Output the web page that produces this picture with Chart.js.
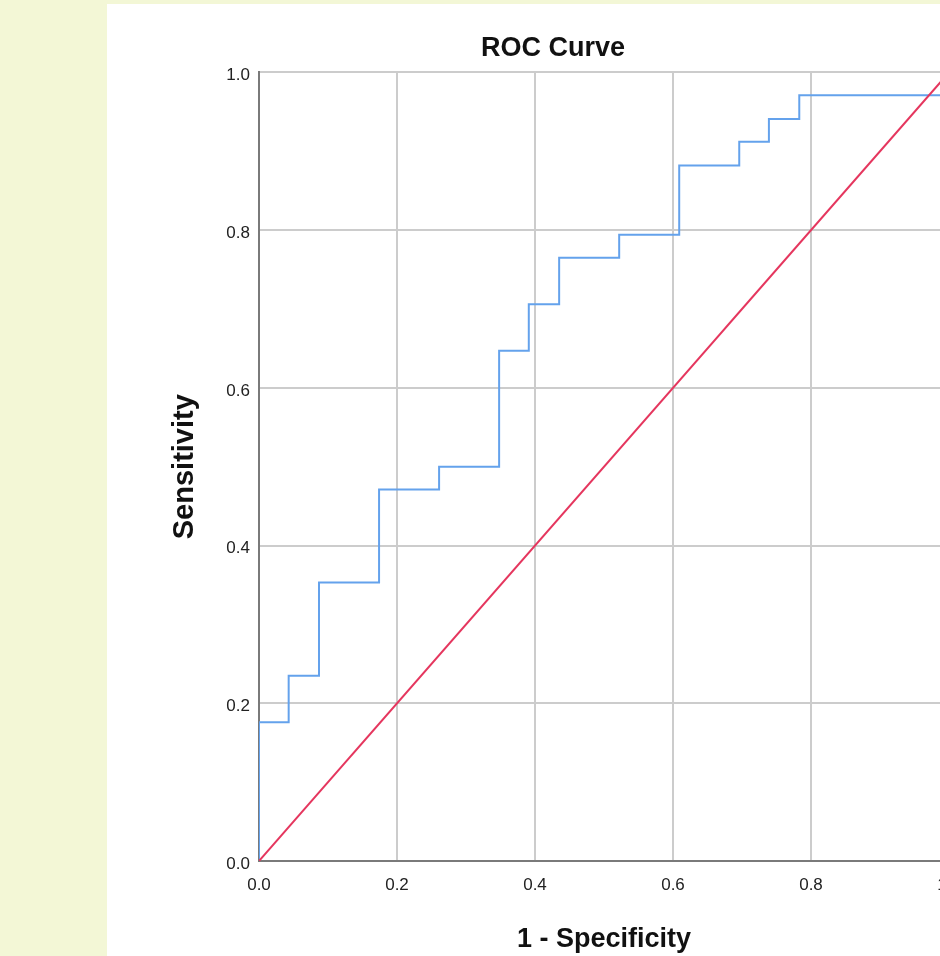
<!DOCTYPE html>
<html>
<head>
<meta charset="utf-8">
<title>ROC Curve</title>
<script src="https://cdn.jsdelivr.net/npm/chart.js@4"></script>
<style>
  html, body { margin: 0; padding: 0; }
  body { background: #f3f7d6; width: 940px; height: 956px; overflow: hidden; position: relative; }
  #panel { position: absolute; left: 107px; top: 4px; width: 900px; height: 960px; background: #fff; }
  #roc { position: absolute; left: 0; top: 0; }
</style>
</head>
<body>
<div id="panel"><canvas id="roc" width="892" height="952"></canvas></div>
<script>
// ROC points (1 - specificity, sensitivity)
const fprValues = [0, 0, 0.043, 0.087, 0.174, 0.261, 0.348, 0.391, 0.435, 0.522, 0.609, 0.696, 0.739, 0.783, 1];
const tprValues = [0, 0.176, 0.235, 0.353, 0.471, 0.5, 0.647, 0.706, 0.765, 0.794, 0.882, 0.912, 0.941, 0.971, 1];
// reference (chance) line
const refX = [0, 1];
const refY = [0, 1];
const tickValues = [0, 0.2, 0.4, 0.6, 0.8, 1];

const FONT = "'Liberation Sans', Arial, sans-serif";
const toPoints = (xs, ys) => xs.map((x, i) => ({ x: x, y: ys[i] }));

const gridOpts = { color: '#cccccc', lineWidth: 2, drawTicks: false };
const borderOpts = { color: '#7a7a7a', width: 2 };
const tickFmt = v => Number(v).toFixed(1);

new Chart(document.getElementById('roc'), {
  type: 'scatter',
  data: {
    datasets: [
      {
        label: 'Reference Line',
        data: toPoints(refX, refY),
        showLine: true,
        borderColor: '#e5365e',
        borderWidth: 2,
        pointRadius: 0
      },
      {
        label: 'ROC',
        data: toPoints(fprValues, tprValues),
        showLine: true,
        stepped: true,
        borderColor: '#64a2ec',
        borderWidth: 2,
        pointRadius: 0
      }
    ]
  },
  options: {
    responsive: false,
    animation: false,
    // left/right padding kept equal so the title sits where the original has it
    layout: { padding: { left: 50, right: 50, top: 0, bottom: 0 } },
    plugins: {
      legend: { display: false },
      tooltip: { enabled: false },
      title: {
        display: true,
        text: 'ROC Curve',
        color: '#111',
        font: { family: FONT, size: 27, weight: 'bold' },
        padding: { top: 28, bottom: 8 }
      }
    },
    scales: {
      x: {
        type: 'linear',
        min: 0, max: 1,
        afterFit: s => { s.height = 95; },
        afterBuildTicks: s => { s.ticks = tickValues.map(v => ({ value: v })); },
        grid: gridOpts,
        border: borderOpts,
        ticks: { callback: tickFmt, padding: 14, color: '#222', font: { family: FONT, size: 17 }, maxRotation: 0 },
        title: {
          display: true,
          text: '1 - Specificity',
          color: '#111',
          font: { family: FONT, size: 27, weight: 'bold' },
          padding: { top: 0, bottom: 0 }
        }
      },
      y: {
        type: 'linear',
        min: 0, max: 1,
        afterFit: s => { s.width = 102; },
        afterBuildTicks: s => { s.ticks = tickValues.map(v => ({ value: v })); },
        grid: gridOpts,
        border: borderOpts,
        ticks: { callback: tickFmt, padding: 9, labelOffset: 3, color: '#222', font: { family: FONT, size: 17 } },
        title: {
          display: true,
          text: 'Sensitivity',
          color: '#111',
          font: { family: FONT, size: 29, weight: 'bold' },
          padding: { top: 11, bottom: 0 }
        }
      }
    }
  }
});
</script>
</body>
</html>
